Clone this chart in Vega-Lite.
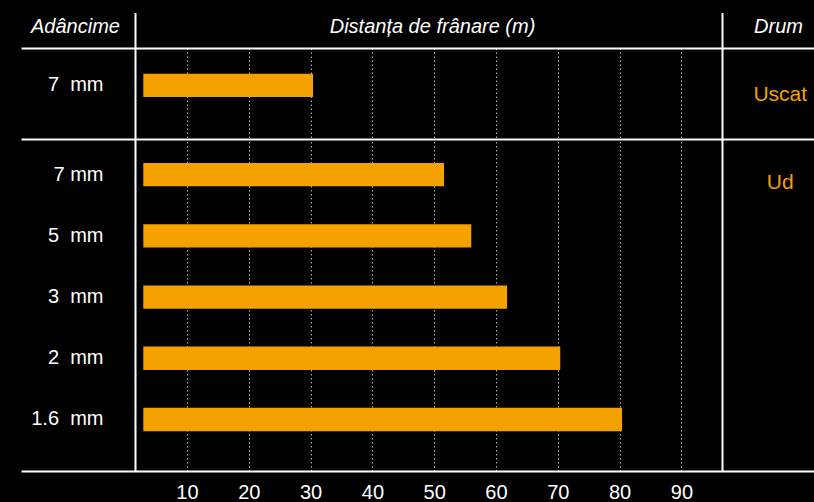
{
  "$schema": "https://vega.github.io/schema/vega-lite/v6.json",
  "background": "black",
  "padding": {"left": 0, "right": 0, "top": 11, "bottom": 0},
  "config": {"view": {"stroke": null}, "font": "Liberation Sans"},
  "datasets": {
    "rows": [
      {"drum": "Uscat", "depth": "7\u00a0 mm", "distance": 30.4},
      {"drum": "Ud", "depth": "7 mm", "distance": 51.6},
      {"drum": "Ud", "depth": "5\u00a0 mm", "distance": 56.0},
      {"drum": "Ud", "depth": "3\u00a0 mm", "distance": 61.8},
      {"drum": "Ud", "depth": "2\u00a0 mm", "distance": 70.4},
      {"drum": "Ud", "depth": "1.6\u00a0 mm", "distance": 80.4}
    ]
  },
  "spacing": 0,
  "bounds": "flush",
  "vconcat": [
    {
      "width": 814,
      "height": 90.5,
      "data": {"name": "rows"},
      "transform": [{"filter": "datum.drum == 'Uscat'"}],
      "layer": [
        {
          "mark": {"type": "bar", "color": "#F5A100"},
          "encoding": {
            "y": {
              "field": "depth", "type": "nominal", "sort": null,
              "scale": {"paddingInner": 0.619, "paddingOuter": 0.549, "align": 0.384},
              "axis": {
                "orient": "left", "offset": -135, "domainColor": "white", "domainWidth": 2,
                "ticks": false, "labelColor": "white", "labelFontSize": 20, "labelPadding": 32,
                "title": "Adâncime", "titleAngle": 0, "titleX": -60, "titleY": -15.5,
                "titleAlign": "center", "titleBaseline": "alphabetic", "titleColor": "white",
                "titleFontSize": 20, "titleFontStyle": "italic", "titleFontWeight": "normal"
              }
            },
            "x": {
              "field": "distance", "type": "quantitative",
              "scale": {"domain": [-16.86, 111.46], "range": [21, 814], "nice": false, "zero": false},
              "axis": {
                "orient": "top",
                "values": [1.586, 10, 20, 30, 40, 50, 60, 70, 80, 90, 96.57],
                "labels": false,
                "domainColor": "white", "domainWidth": 2,
                "tickColor": "white", "tickWidth": 2,
                "tickSize": {"condition": {"test": "datum.value < 5 || datum.value > 95", "value": 35.5}, "value": 0},
                "grid": true,
                "gridColor": {"condition": {"test": "datum.value < 5 || datum.value > 95", "value": "transparent"}, "value": "#b0b0b0"},
                "gridDash": [1.5, 2.5], "gridWidth": 1,
                "title": "Distanța de frânare (m)", "titleX": 432, "titleY": -15.5,
                "titleAlign": "center", "titleBaseline": "alphabetic", "titleColor": "white",
                "titleFontSize": 20, "titleFontStyle": "italic", "titleFontWeight": "normal"
              }
            },
            "x2": {"datum": 2.93}
          }
        },
        {
          "mark": {"type": "text", "color": "#F5A100", "fontSize": 21, "baseline": "alphabetic", "align": "center", "dy": 15.7},
          "encoding": {
            "x": {"datum": 106, "axis": null},
            "y": {
              "field": "depth", "type": "nominal", "sort": null,
              "axis": {
                "orient": "right", "offset": -92, "labels": false, "ticks": false,
                "domainColor": "white", "domainWidth": 2,
                "title": "Drum", "titleAngle": 0, "titleX": 56, "titleY": -15.5,
                "titleAlign": "center", "titleBaseline": "alphabetic", "titleColor": "white",
                "titleFontSize": 20, "titleFontStyle": "italic", "titleFontWeight": "normal"
              }
            },
            "text": {"field": "drum"}
          }
        }
      ],
      "resolve": {"axis": {"x": "independent", "y": "independent"}}
    },
    {
      "width": 814,
      "height": 332,
      "data": {"name": "rows"},
      "transform": [{"filter": "datum.drum == 'Ud'"}],
      "layer": [
        {
          "mark": {"type": "bar", "color": "#F5A100"},
          "encoding": {
            "y": {
              "field": "depth", "type": "nominal", "sort": null,
              "scale": {"paddingInner": 0.619, "paddingOuter": 0.522, "align": 0.376},
              "axis": {
                "orient": "left", "offset": -135, "domainColor": "white", "domainWidth": 2,
                "ticks": false, "labelColor": "white", "labelFontSize": 20, "labelPadding": 32,
                "title": null
              }
            },
            "x": {
              "field": "distance", "type": "quantitative",
              "scale": {"domain": [-16.86, 111.46], "range": [21, 814], "nice": false, "zero": false},
              "axis": {
                "orient": "bottom",
                "values": [10, 20, 30, 40, 50, 60, 70, 80, 90],
                "labelColor": "white", "labelFontSize": 20, "labelPadding": 11,
                "ticks": false, "tickSize": 0,
                "domainColor": "white", "domainWidth": 2,
                "grid": true, "gridColor": "#b0b0b0", "gridDash": [1.5, 2.5], "gridWidth": 1,
                "title": null
              }
            },
            "x2": {"datum": 2.93}
          }
        },
        {
          "transform": [
            {"window": [{"op": "row_number", "as": "i"}]},
            {"filter": "datum.i == 1"}
          ],
          "mark": {"type": "text", "color": "#F5A100", "fontSize": 21, "baseline": "alphabetic", "align": "center", "dy": 14},
          "encoding": {
            "x": {
              "datum": 106,
              "axis": {
                "orient": "top", "labels": false, "ticks": false, "grid": false,
                "domainColor": "white", "domainWidth": 2, "title": null
              }
            },
            "y": {
              "field": "depth", "type": "nominal", "sort": null,
              "axis": {
                "orient": "right", "offset": -92, "labels": false, "ticks": false,
                "domainColor": "white", "domainWidth": 2, "title": null
              }
            },
            "text": {"field": "drum"}
          }
        }
      ],
      "resolve": {"axis": {"x": "independent", "y": "independent"}}
    }
  ]
}
